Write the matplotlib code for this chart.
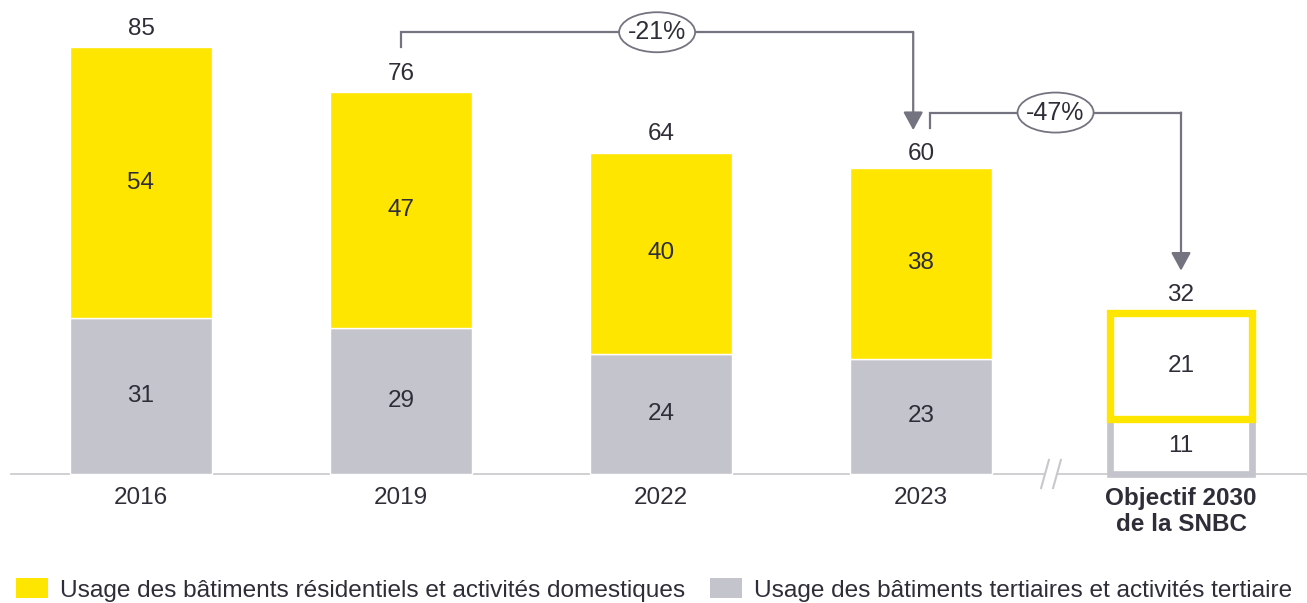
import matplotlib.pyplot as plt
from matplotlib.patches import Ellipse, Patch

plt.rcParams['font.family'] = ['Liberation Sans', 'DejaVu Sans']

categories = ['2016', '2019', '2022', '2023', 'Objectif 2030\nde la SNBC']
tertiaire = [31, 29, 24, 23, 11]
residentiel = [54, 47, 40, 38, 21]
totals = [85, 76, 64, 60, 32]

legend_labels = ['Usage des bâtiments résidentiels et activités domestiques',
                 'Usage des bâtiments tertiaires et activités tertiaire']

yellow = '#FFE600'
grey = '#C4C4CD'
dark = '#2E2E38'
arrow_grey = '#747480'
base_grey = '#C8C8CC'

fig = plt.figure(figsize=(13.07, 6.03), dpi=100)
ax = fig.add_axes([0, 0, 1, 1])
ax.set_xlim(-141 / 260, (1307 - 141) / 260)
ax.set_ylim(-(603 - 474) / 5.02, 474 / 5.02)
ax.axis('off')

x = list(range(len(categories)))
w = 0.546
n = len(categories) - 1  # last one is the target

# historical bars
ax.bar(x[:n], tertiaire[:n], width=w, color=grey, edgecolor='white', linewidth=1, zorder=2)
ax.bar(x[:n], residentiel[:n], width=w, bottom=tertiaire[:n], color=yellow,
       edgecolor='white', linewidth=1, zorder=2)

# target bar: outlines only
ax.bar(x[n], tertiaire[n], width=w, facecolor='white', edgecolor=grey, linewidth=4.8, zorder=3)
ax.bar(x[n], residentiel[n], width=w, bottom=tertiaire[n], facecolor='none',
       edgecolor=yellow, linewidth=5.3, zorder=4)

for i in x:
    ax.text(i, tertiaire[i] / 2, str(tertiaire[i]), ha='center', va='center',
            fontsize=17.5, color=dark, zorder=5)
    ax.text(i, tertiaire[i] + residentiel[i] / 2, str(residentiel[i]), ha='center',
            va='center', fontsize=17.5, color=dark, zorder=5)
    ax.text(i, totals[i] + 3.7, str(totals[i]), ha='center', va='center',
            fontsize=17.5, color=dark, zorder=5)

# category labels
for i in x[:n]:
    ax.text(i, -4.8, categories[i], ha='center', va='center', fontsize=17.5, color=dark)
ax.text(x[n], -7.5, categories[n], ha='center', va='center', fontsize=17.5,
        color=dark, fontweight='bold', linespacing=1.15)

# baseline with break mark
brk = (x[n - 1] + x[n]) / 2
ax.plot([-0.5, brk - 0.025], [0, 0], color=base_grey, lw=1.2, zorder=1)
ax.plot([brk + 0.025, 4.6], [0, 0], color=base_grey, lw=1.2, zorder=1)
for c in (brk - 0.023, brk + 0.023):
    ax.plot([c - 0.015, c + 0.015], [-2.8, 2.8], color=base_grey, lw=1.5, zorder=1)


def bracket(i0, i1, x0, x1):
    start = totals[i0] + 9
    level = start + 3
    tip = totals[i1] + 8.5
    ax.plot([x0, x0, x1, x1], [start, level, level, level - 0.01],
            color=arrow_grey, lw=1.6, solid_joinstyle='miter', zorder=5)
    ax.annotate('', xy=(x1, tip), xytext=(x1, level),
                arrowprops=dict(arrowstyle='-|>,head_length=0.55,head_width=0.3',
                                color=arrow_grey, lw=1.6, shrinkA=0, shrinkB=0,
                                mutation_scale=20), zorder=5)
    xm = (x0 + x1) / 2
    ax.add_patch(Ellipse((xm, level), 76 / 260, 40 / 5.02, facecolor='white',
                         edgecolor=arrow_grey, lw=1.3, zorder=6))
    pct = round((totals[i1] - totals[i0]) / totals[i0] * 100)
    ax.text(xm, level, f'{pct}%', ha='center', va='center', fontsize=18,
            color=dark, zorder=7)


bracket(1, 3, x[1], x[3] - 0.03)
bracket(3, 4, x[3] + 0.035, x[4])

handles = [Patch(facecolor=yellow), Patch(facecolor=grey)]
fig.legend(handles, legend_labels, loc='center left', bbox_to_anchor=(0.012, 0.0216),
           ncol=2, frameon=False, fontsize=17.6, handlelength=1.32, handleheight=0.9,
           handletextpad=0.5, columnspacing=1.0, borderaxespad=0, borderpad=0,
           labelcolor=dark)

fig.savefig('out.png', dpi=100)
